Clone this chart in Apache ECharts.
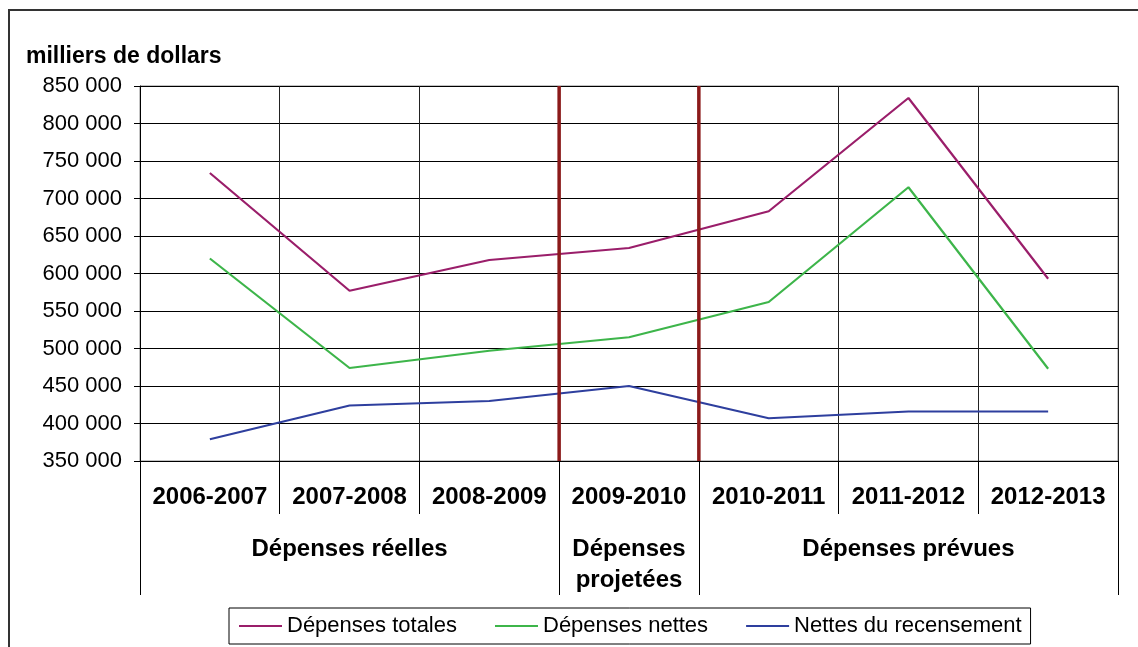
<!DOCTYPE html>
<html>
<head>
<meta charset="utf-8">
<script src="https://cdn.jsdelivr.net/npm/echarts@6/dist/echarts.min.js"></script>
<style>
html,body{margin:0;padding:0;background:#fff;}
#c{width:1138px;height:647px;}
</style>
</head>
<body>
<div id="c"></div>
<script>
var categories = ['2006-2007','2007-2008','2008-2009','2009-2010','2010-2011','2011-2012','2012-2013'];
var depensesTotales = [734000, 577000, 618000, 634000, 683000, 834000, 593000];
var depensesNettes = [620000, 474000, 497000, 515000, 562000, 715000, 473000];
var nettesRecensement = [379000, 424000, 430000, 450000, 407000, 416000, 416000];
var groupLabels = ['Dépenses réelles', 'Dépenses\nprojetées', 'Dépenses prévues'];
var groupSpans = [3, 1, 3];
var yMin = 350000, yMax = 850000, yStep = 50000;

var FONT = '"Liberation Sans", Arial, sans-serif';
var chart = echarts.init(document.getElementById('c'));

function fmt(v){
  return String(v).replace(/\B(?=(\d{3})+(?!\d))/g, ' ');
}

var option = {
  animation: false,
  backgroundColor: '#fff',
  textStyle: {fontFamily: FONT, color: '#000'},
  title: {
    text: 'milliers de dollars',
    left: 21, top: 40,
    textStyle: {fontFamily: FONT, fontSize: 23, fontWeight: 'bold', color: '#000'}
  },
  grid: {left: 140, right: 20, top: 86, bottom: 186, containLabel: false,
         show: true, borderColor: '#888', borderWidth: 1},
  legend: {
    left: 229, top: 608,
    icon: 'rect', itemWidth: 43, itemHeight: 2, itemGap: 38,
    padding: [7, 9, 7, 10],
    borderColor: '#000', borderWidth: 1, borderRadius: 0,
    textStyle: {fontFamily: FONT, fontSize: 22, color: '#000'},
    data: ['Dépenses totales', 'Dépenses nettes', 'Nettes du recensement']
  },
  xAxis: {
    type: 'category',
    data: categories,
    boundaryGap: true,
    axisLine: {show: true, lineStyle: {color: '#000', width: 1}},
    axisTick: {show: true, interval: 0, length: 53, lineStyle: {color: '#000'}},
    splitLine: {show: true, interval: 0, lineStyle: {color: '#222', width: 1}},
    axisLabel: {interval: 0, margin: 24, fontFamily: FONT, fontSize: 24, fontWeight: 'bold', color: '#000'}
  },
  yAxis: {
    type: 'value',
    min: yMin, max: yMax, interval: yStep,
    axisLine: {show: true, lineStyle: {color: '#000'}},
    axisTick: {show: true, length: 6, lineStyle: {color: '#000'}},
    splitLine: {show: true, lineStyle: {color: '#000', width: 1}},
    axisLabel: {margin: 18, fontFamily: FONT, fontSize: 22, color: '#000', formatter: fmt}
  },
  series: [
    {name: 'Dépenses totales', type: 'line', data: depensesTotales, symbol: 'none',
     lineStyle: {color: '#9A1E6A', width: 2.2}, itemStyle: {color: '#9A1E6A'}},
    {name: 'Dépenses nettes', type: 'line', data: depensesNettes, symbol: 'none',
     lineStyle: {color: '#3DB54A', width: 2.2}, itemStyle: {color: '#3DB54A'}},
    {name: 'Nettes du recensement', type: 'line', data: nettesRecensement, symbol: 'none',
     lineStyle: {color: '#2E3F9E', width: 2.2}, itemStyle: {color: '#2E3F9E'}}
  ]
};
chart.setOption(option);

// helper graphics computed through the axes
var c0 = chart.convertToPixel({xAxisIndex: 0}, 0);
var c1 = chart.convertToPixel({xAxisIndex: 0}, 1);
var bw = c1 - c0;
function bx(k){ return c0 + (k - 0.5) * bw; }
var yBot = chart.convertToPixel({yAxisIndex: 0}, yMin);
var yTop = chart.convertToPixel({yAxisIndex: 0}, yMax);

var g = [];
// outer frame
g.push({type: 'rect', shape: {x: 9, y: 10, width: 1300, height: 800},
        style: {fill: 'none', stroke: '#333', lineWidth: 2}, z: 1});
// group boundaries and labels
var k = 0;
var bounds = [0];
groupSpans.forEach(function(s){ k += s; bounds.push(k); });
bounds.forEach(function(b){
  g.push({type: 'line', shape: {x1: Math.round(bx(b)) + 0.5, y1: yBot, x2: Math.round(bx(b)) + 0.5, y2: yBot + 134},
          style: {stroke: '#000', lineWidth: 1}, z: 5});
});
for (var i = 0; i < groupLabels.length; i++) {
  var xm = (bx(bounds[i]) + bx(bounds[i + 1])) / 2;
  g.push({type: 'text', x: xm, y: yBot + 73,
          style: {text: groupLabels[i], fill: '#000', font: 'bold 24px ' + FONT,
                  align: 'center', verticalAlign: 'top', lineHeight: 31}, z: 5});
}
// projection separators (dark red)
[3, 4].forEach(function(b){
  g.push({type: 'line', shape: {x1: bx(b), y1: yTop, x2: bx(b), y2: yBot},
          style: {stroke: '#8B1A1A', lineWidth: 3.5}, z: 10});
});
chart.setOption({graphic: g});
</script>
</body>
</html>
